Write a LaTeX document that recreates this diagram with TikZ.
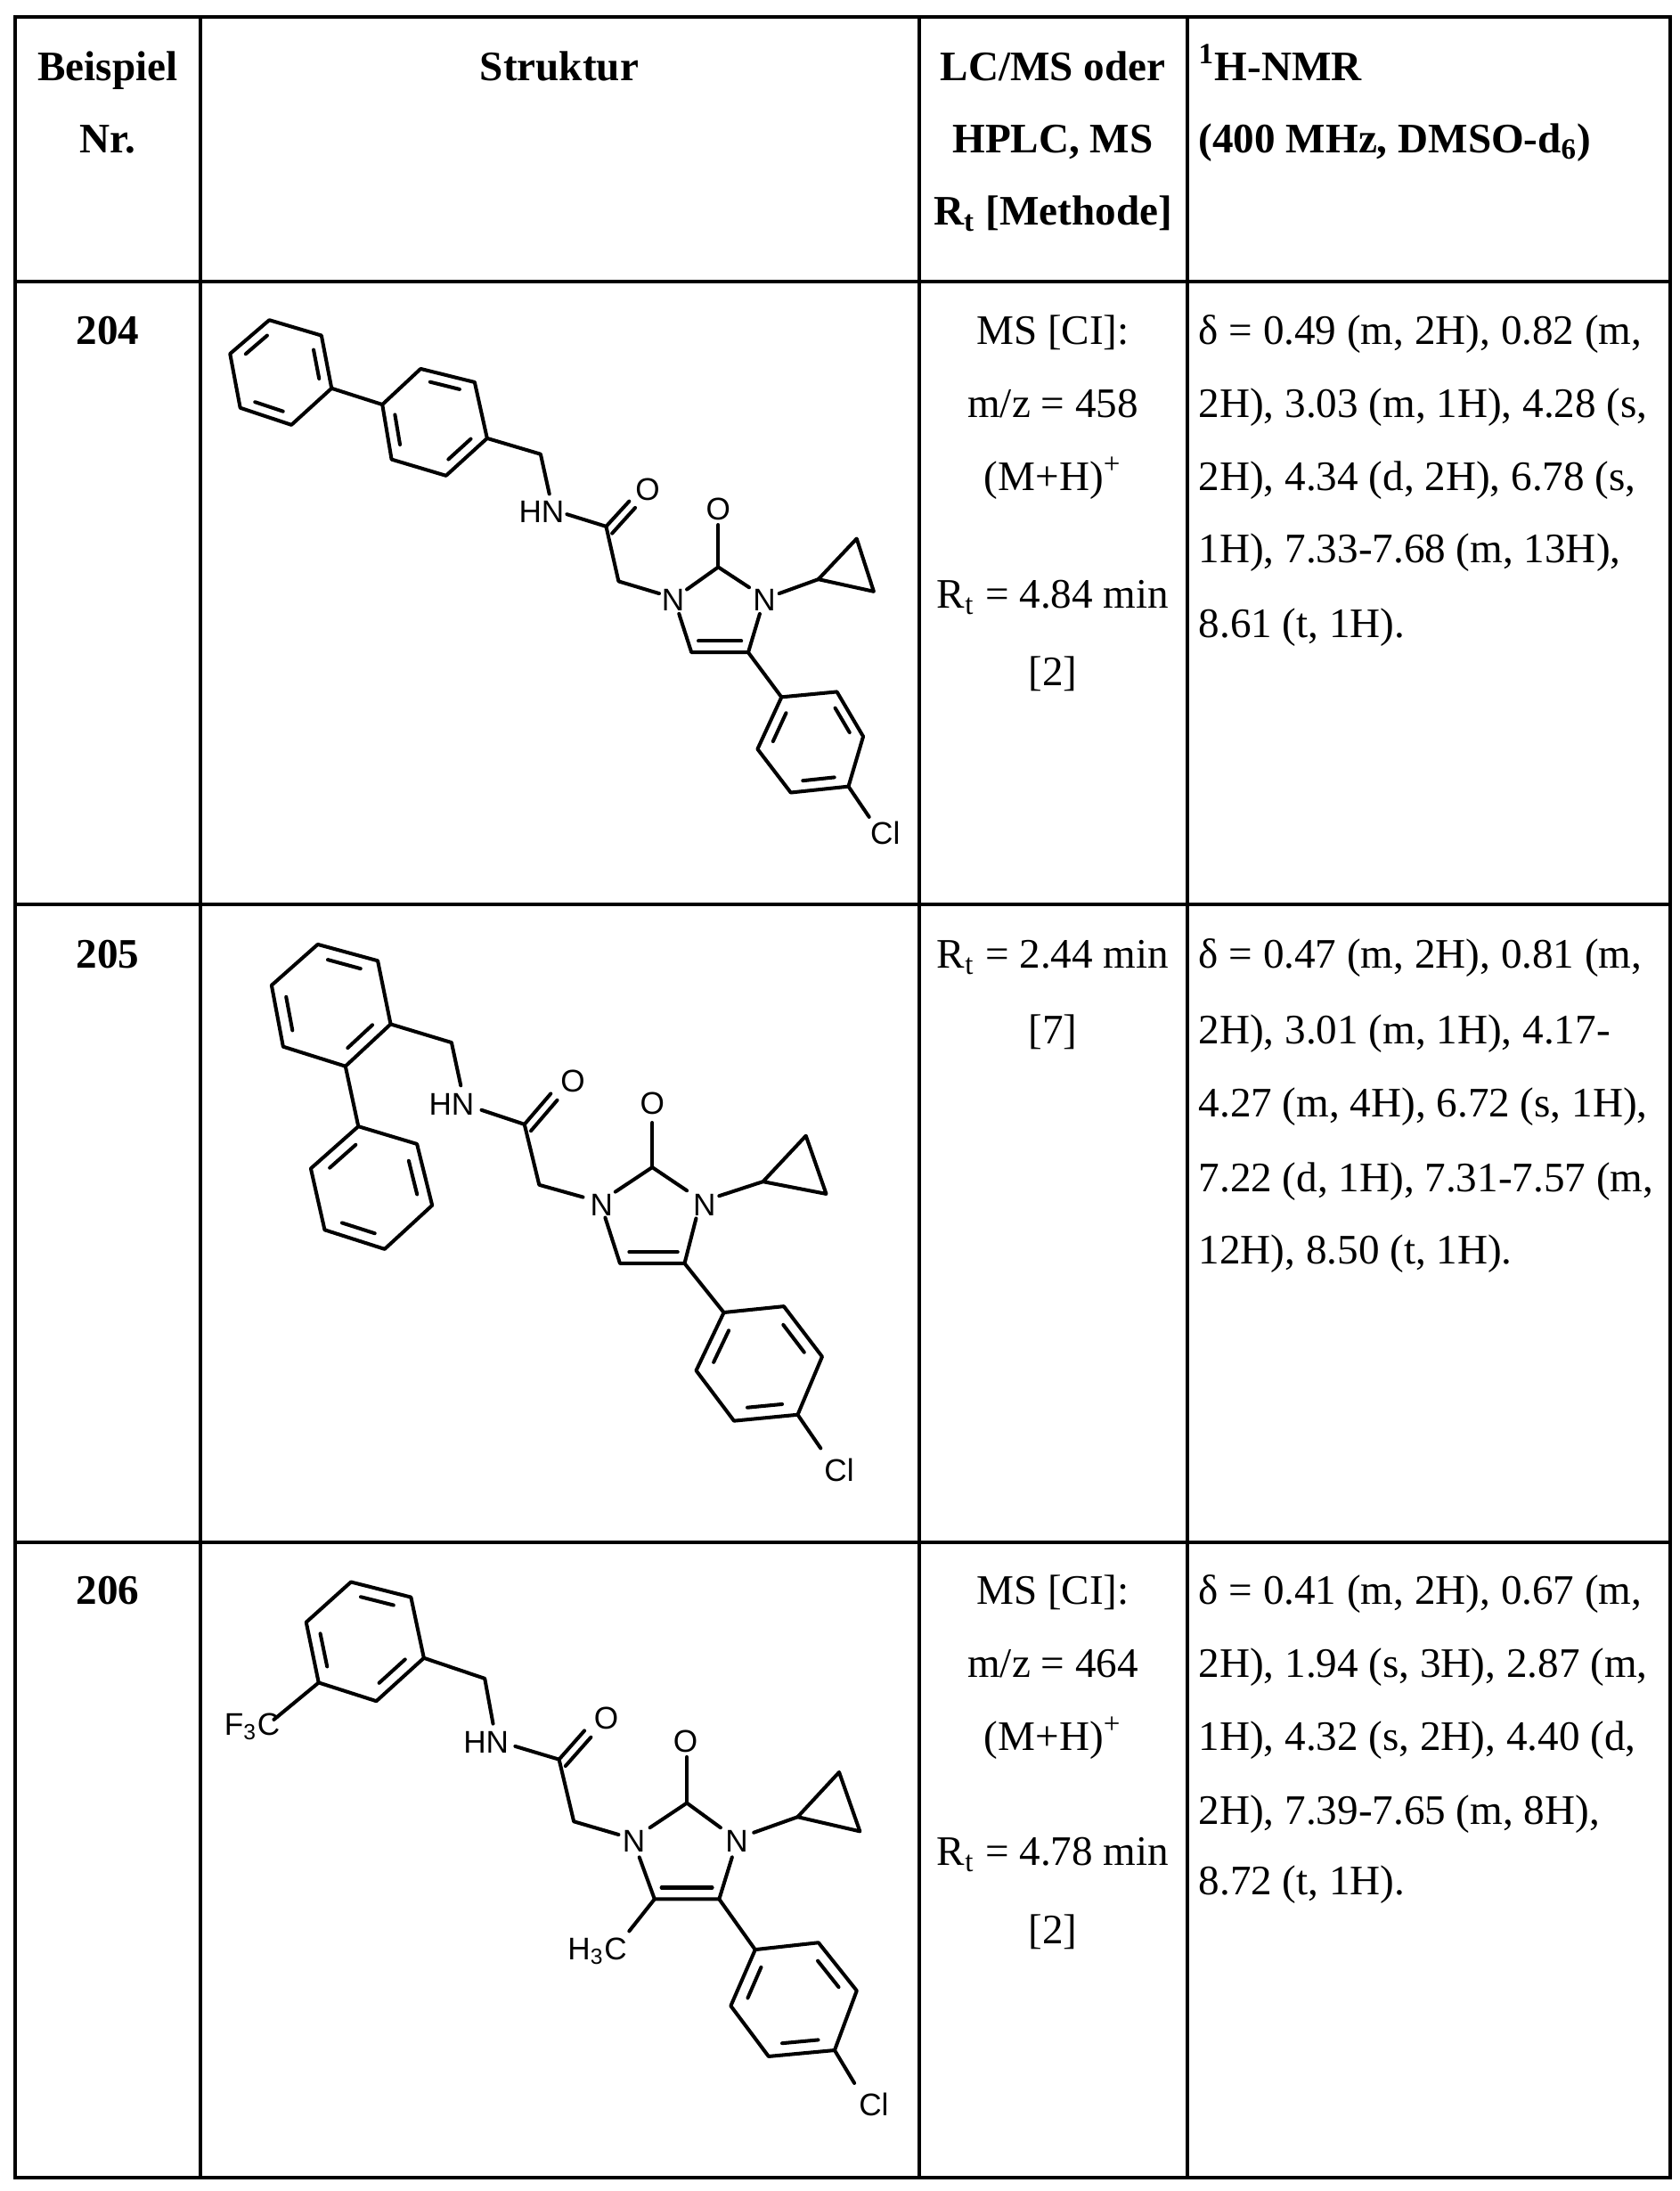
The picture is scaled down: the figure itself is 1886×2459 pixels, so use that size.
\documentclass[tikz,border=0pt]{standalone}
\usepackage{fontspec}
\setmainfont{Liberation Serif}
\newfontfamily\arial{Liberation Sans}
\usetikzlibrary{calc}
\newcommand\ringsix[7]{%
 \coordinate (#1-1) at (#2);\coordinate (#1-2) at (#3);\coordinate (#1-3) at (#4);
 \coordinate (#1-4) at (#5);\coordinate (#1-5) at (#6);\coordinate (#1-6) at (#7);
 \coordinate (#1-c) at ($(#1-1)!0.5!(#1-4)$);
 \draw[bond] (#1-1)--(#1-2)--(#1-3)--(#1-4)--(#1-5)--(#1-6)--cycle;}
\newcommand\dbl[3]{\draw[bond] ($ ($(#1)!0.15!(#2)$)!0.22!(#3) $) -- ($ ($(#2)!0.15!(#1)$)!0.22!(#3) $);}
\tikzset{
 bond/.style={line width=1.15pt, line join=round, line cap=round},
 atom/.style={font=\arial\fontsize{10}{12}\selectfont, inner sep=0pt},
 tx/.style={font=\fontsize{13.4}{15}\selectfont, inner sep=0pt, anchor=base},
 txl/.style={tx, anchor=base west},
 hd/.style={tx, font=\fontsize{13.4}{15}\selectfont\bfseries},
 hdl/.style={hd, anchor=base west},
 grid/.style={line width=0.9pt}
}
\begin{document}
\begin{tikzpicture}[x=0.01cm,y=-0.01cm]
\useasboundingbox (0,0) rectangle (1886,2459);
\fill[white] (0,0) rectangle (1886,2459);
% table
\draw[grid] (17,19) rectangle (1875,2444);
\foreach \yy in {316,1015,1731} \draw[grid] (17,\yy) -- (1875,\yy);
\foreach \xx in {225,1032,1333} \draw[grid] (\xx,19) -- (\xx,2444);
% header
\node[hd] (h1a) at (121,90) {Beispiel};
\node[hd] (h1b) at (121,171) {Nr.};
\node[hd] (h2) at (628,90) {Struktur};
\node[hd] (h3a) at (1182,90) {LC/MS oder};
\node[hd] (h3b) at (1182,171) {HPLC, MS};
\node[hd] (h3c) at (1182,252) {R\textsubscript{t} [Methode]};
\node[hdl] (h4a) at (1345,90) {\textsuperscript{1}H-NMR};
\node[hdl] (h4b) at (1345,171) {(400 MHz, DMSO-d\textsubscript{6})};
% row 204
\node[hd] (n204) at (121,386) {204};
\node[tx] (c204a) at (1182,386) {MS [CI]:};
\node[tx] (c204b) at (1182,468) {m/z = 458};
\node[tx] (c204c) at (1182,550) {(M+H)\textsuperscript{+}};
\node[tx] (c204d) at (1182,682) {R\textsubscript{t} = 4.84 min};
\node[tx] (c204e) at (1182,769) {[2]};
\node[txl] (d204a) at (1345,386) {δ = 0.49 (m, 2H), 0.82 (m,};
\node[txl] (d204b) at (1345,468) {2H), 3.03 (m, 1H), 4.28 (s,};
\node[txl] (d204c) at (1345,550) {2H), 4.34 (d, 2H), 6.78 (s,};
\node[txl] (d204d) at (1345,631) {1H), 7.33-7.68 (m, 13H),};
\node[txl] (d204e) at (1345,715) {8.61 (t, 1H).};
% row 205
\node[hd] (n205) at (121,1086) {205};
\node[tx] (c205a) at (1182,1086) {R\textsubscript{t} = 2.44 min};
\node[tx] (c205b) at (1182,1171) {[7]};
\node[txl] (d205a) at (1345,1086) {δ = 0.47 (m, 2H), 0.81 (m,};
\node[txl] (d205b) at (1345,1171) {2H), 3.01 (m, 1H), 4.17-};
\node[txl] (d205c) at (1345,1253) {4.27 (m, 4H), 6.72 (s, 1H),};
\node[txl] (d205d) at (1345,1337) {7.22 (d, 1H), 7.31-7.57 (m,};
\node[txl] (d205e) at (1345,1418) {12H), 8.50 (t, 1H).};
% row 206
\node[hd] (n206) at (121,1800) {206};
\node[tx] (c206a) at (1182,1800) {MS [CI]:};
\node[tx] (c206b) at (1182,1882) {m/z = 464};
\node[tx] (c206c) at (1182,1964) {(M+H)\textsuperscript{+}};
\node[tx] (c206d) at (1182,2093) {R\textsubscript{t} = 4.78 min};
\node[tx] (c206e) at (1182,2181) {[2]};
\node[txl] (d206a) at (1345,1800) {δ = 0.41 (m, 2H), 0.67 (m,};
\node[txl] (d206b) at (1345,1882) {2H), 1.94 (s, 3H), 2.87 (m,};
\node[txl] (d206c) at (1345,1964) {1H), 4.32 (s, 2H), 4.40 (d,};
\node[txl] (d206d) at (1345,2047) {2H), 7.39-7.65 (m, 8H),};
\node[txl] (d206e) at (1345,2126) {8.72 (t, 1H).};

% ===== molecule 204 =====
\begin{scope}[shift={(222,299)},xscale=0.518,yscale=0.456]
\ringsix{A}{155,132}{268,170}{290,300}{203,390}{92,348}{70,215}
\dbl{A-6}{A-1}{A-c}\dbl{A-2}{A-3}{A-c}\dbl{A-4}{A-5}{A-c}
\ringsix{B}{400,340}{483,252}{600,285}{627,423}{538,515}{420,475}
\dbl{B-2}{B-3}{B-c}\dbl{B-4}{B-5}{B-c}\dbl{B-6}{B-1}{B-c}
\draw[bond] (A-3)--(B-1);
\draw[bond] (B-4)--(743,462)--(762,560);
\node[atom] (hn1) at (745,605) {HN};
\node[atom] (o1) at (975,550) {O};
\node[atom] (na1) at (1030,822) {N};
\node[atom] (nb1) at (1228,822) {N};
\node[atom] (o2) at (1128,598) {O};
\node[atom] (cl1) at (1490,1395) {Cl};
\draw[bond] (800,610)--(885,640)--(912,775)--(1000,805);
\draw[bond] (885,640)--(935,578); \draw[bond] (898,657)--(948,594);
\draw[bond] (1060,795)--(1128,740)--(1195,790);
\draw[bond] (1128,740)--(1128,636);
\draw[bond] (1260,805)--(1345,770);
\draw[bond] (1345,770)--(1428,670)--(1465,800)--cycle;
\draw[bond] (1043,855)--(1070,950)--(1193,950)--(1218,855);
\draw[bond] (1085,922)--(1178,922);
\draw[bond] (1193,950)--(1265,1060);
\ringsix{C}{1265,1060}{1385,1047}{1442,1157}{1410,1280}{1285,1295}{1213,1188}
\dbl{C-2}{C-3}{C-c}\dbl{C-4}{C-5}{C-c}\dbl{C-6}{C-1}{C-c}
\draw[bond] (C-4)--(1455,1355);
\end{scope}

% ===== molecule 205 =====
\begin{scope}[shift={(222,1014)},xscale=0.518,yscale=0.459]
\ringsix{D}{260,100}{390,140}{418,295}{320,398}{185,350}{160,200}
\dbl{D-1}{D-2}{D-c}\dbl{D-3}{D-4}{D-c}\dbl{D-5}{D-6}{D-c}
\ringsix{E}{348,545}{475,588}{508,738}{405,845}{275,798}{245,648}
\dbl{E-6}{E-1}{E-c}\dbl{E-2}{E-3}{E-c}\dbl{E-4}{E-5}{E-c}
\draw[bond] (D-4)--(E-1);
\draw[bond] (D-3)--(550,340)--(570,445);
\node[atom] (hn2) at (550,490) {HN};
\node[atom] (o3) at (813,435) {O};
\node[atom] (na2) at (875,737) {N};
\node[atom] (nb2) at (1098,737) {N};
\node[atom] (o4) at (985,488) {O};
\node[atom] (cl2) at (1390,1385) {Cl};
\draw[bond] (615,505)--(708,540)--(740,688)--(835,718);
\draw[bond] (708,540)--(765,465); \draw[bond] (722,556)--(779,481);
\draw[bond] (905,705)--(985,645)--(1060,702);
\draw[bond] (985,645)--(985,536);
\draw[bond] (1130,715)--(1225,680);
\draw[bond] (1225,680)--(1318,568)--(1362,710)--cycle;
\draw[bond] (883,768)--(915,880)--(1055,880)--(1080,770);
\draw[bond] (935,852)--(1040,852);
\draw[bond] (1055,880)--(1140,1000);
\ringsix{F}{1140,1000}{1270,985}{1353,1108}{1300,1250}{1162,1265}{1080,1142}
\dbl{F-2}{F-3}{F-c}\dbl{F-4}{F-5}{F-c}\dbl{F-6}{F-1}{F-c}
\draw[bond] (F-4)--(1350,1332);
\end{scope}

% ===== molecule 206 =====
\begin{scope}[shift={(222,1734)},xscale=0.518,yscale=0.461]
\ringsix{G}{332,90}{462,127}{490,275}{387,380}{262,335}{235,188}
\dbl{G-1}{G-2}{G-c}\dbl{G-3}{G-4}{G-c}\dbl{G-5}{G-6}{G-c}
\draw[bond] (G-5)--(165,425);
\node[atom] (cf3) at (118,442) {F\textsubscript{3}C};
\draw[bond] (G-3)--(622,325)--(640,435);
\node[atom] (hn3) at (625,480) {HN};
\node[atom] (o5) at (885,422) {O};
\node[atom] (na3) at (945,722) {N};
\node[atom] (nb3) at (1168,722) {N};
\node[atom] (o6) at (1057,478) {O};
\node[atom] (me) at (866,988) {H\textsubscript{3}C};
\node[atom] (cl3) at (1465,1362) {Cl};
\draw[bond] (688,490)--(783,522)--(815,673)--(912,705);
\draw[bond] (783,522)--(838,452); \draw[bond] (797,538)--(852,468);
\draw[bond] (980,688)--(1060,628)--(1133,688);
\draw[bond] (1060,628)--(1060,516);
\draw[bond] (1205,700)--(1300,662);
\draw[bond] (1300,662)--(1390,553)--(1435,697)--cycle;
\draw[bond] (957,760)--(990,862)--(1130,862)--(1158,760);
\draw[bond] (1005,834)--(1115,834);
\draw[bond] (990,862)--(935,940);
\draw[bond] (1130,862)--(1208,985);
\ringsix{H}{1208,985}{1345,968}{1428,1085}{1380,1230}{1237,1245}{1155,1122}
\dbl{H-2}{H-3}{H-c}\dbl{H-4}{H-5}{H-c}\dbl{H-6}{H-1}{H-c}
\draw[bond] (H-4)--(1423,1310);
\end{scope}
\end{tikzpicture}
\end{document}
